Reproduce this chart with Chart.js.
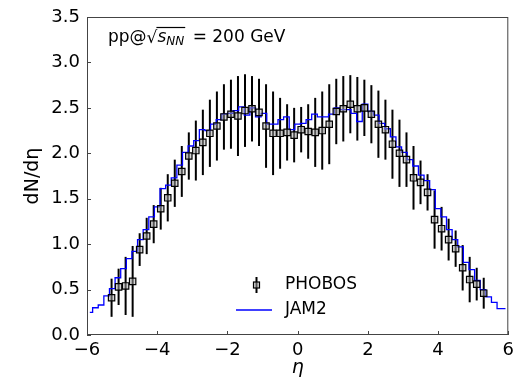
<!DOCTYPE html>
<html>
<head>
<meta charset="utf-8">
<script src="https://cdn.jsdelivr.net/npm/chart.js@4"></script>
<style>
  html, body { margin: 0; padding: 0; background: #fff; }
  #wrap { width: 514px; height: 382px; }
</style>
</head>
<body>
<div id="wrap"><canvas id="dndeta" width="514" height="382"></canvas></div>
<script>
// PHOBOS pp 200 GeV points
const phobosEta = [-5.3, -5.1, -4.9, -4.7, -4.5, -4.3, -4.1, -3.9, -3.7, -3.5, -3.3, -3.1, -2.9, -2.7,
  -2.5, -2.3, -2.1, -1.9, -1.7, -1.5, -1.3, -1.1, -0.9, -0.7, -0.5, -0.3, -0.1,
  0.1, 0.3, 0.5, 0.7, 0.9, 1.1, 1.3, 1.5, 1.7, 1.9, 2.1, 2.3, 2.5, 2.7, 2.9,
  3.1, 3.3, 3.5, 3.7, 3.9, 4.1, 4.3, 4.5, 4.7, 4.9, 5.1, 5.3];
const phobosVal = [0.41, 0.53, 0.54, 0.59, 0.94, 1.09, 1.22, 1.39, 1.51, 1.67, 1.80, 1.97, 2.03, 2.12,
  2.22, 2.30, 2.40, 2.43, 2.41, 2.47, 2.49, 2.45, 2.30, 2.22, 2.22, 2.23, 2.20,
  2.26, 2.24, 2.23, 2.25, 2.32, 2.46, 2.49, 2.54, 2.49, 2.50, 2.43, 2.32, 2.26, 2.10, 2.00,
  1.93, 1.73, 1.68, 1.57, 1.27, 1.17, 1.05, 0.95, 0.74, 0.61, 0.56, 0.46];
const phobosErr = [0.21, 0.20, 0.32, 0.39, 0.18, 0.20, 0.21, 0.23, 0.26, 0.26, 0.28, 0.26, 0.33, 0.36,
  0.37, 0.38, 0.36, 0.38, 0.44, 0.40, 0.36, 0.37, 0.46, 0.46, 0.39, 0.31, 0.30,
  0.25, 0.30, 0.38, 0.43, 0.44, 0.36, 0.36, 0.32, 0.35, 0.31, 0.32, 0.37, 0.33, 0.38, 0.37,
  0.30, 0.35, 0.24, 0.20, 0.32, 0.24, 0.23, 0.20, 0.25, 0.25, 0.18, 0.17];

// JAM2 histogram (bin centres)
const jamEta = [-5.92, -5.76, -5.60, -5.44, -5.28, -5.12, -4.96, -4.80, -4.64, -4.48, -4.32, -4.16,
  -4.00, -3.84, -3.68, -3.52, -3.36, -3.20, -3.04, -2.88, -2.72, -2.56, -2.40, -2.24, -2.08,
  -1.92, -1.76, -1.60, -1.44, -1.28, -1.12, -0.96, -0.80, -0.64, -0.48, -0.32, -0.16, 0.00,
  0.16, 0.32, 0.48, 0.64, 0.80, 0.96, 1.12, 1.28, 1.44, 1.60, 1.76, 1.92, 2.08, 2.24, 2.40,
  2.56, 2.72, 2.88, 3.04, 3.20, 3.36, 3.52, 3.68, 3.84, 4.00, 4.16, 4.32, 4.48, 4.64, 4.80,
  4.96, 5.12, 5.28, 5.44, 5.60, 5.76, 5.92];
const jamVal = [0.25, 0.30, 0.33, 0.43, 0.51, 0.63, 0.73, 0.84, 0.92, 1.05, 1.16, 1.30,
  1.41, 1.61, 1.65, 1.73, 1.87, 2.01, 2.08, 2.14, 2.26, 2.25, 2.32, 2.37, 2.43,
  2.44, 2.47, 2.51, 2.42, 2.50, 2.40, 2.44, 2.32, 2.32, 2.37, 2.40, 2.26, 2.32,
  2.33, 2.37, 2.43, 2.40, 2.40, 2.43, 2.50, 2.48, 2.48, 2.44, 2.35, 2.54, 2.46, 2.42, 2.33,
  2.27, 2.18, 2.07, 2.01, 1.93, 1.86, 1.76, 1.70, 1.60, 1.39, 1.30, 1.16, 1.05, 0.97, 0.80,
  0.72, 0.60, 0.50, 0.42, 0.36, 0.29, 0.29];

const xTicks = [-6, -4, -2, 0, 2, 4, 6];
const yTicks = [0.0, 0.5, 1.0, 1.5, 2.0, 2.5, 3.0, 3.5];

const FONT = "'DejaVu Sans', sans-serif";
const MARKER_FILL = 'rgba(170,170,170,0.5)';

// error bars, inward ticks, frame, legend and label
const extras = {
  id: 'extras',
  beforeDatasetsDraw(chart) {
    const { ctx, scales: { x, y } } = chart;
    ctx.save();
    ctx.strokeStyle = '#000';
    ctx.lineWidth = 2;
    phobosEta.forEach((e, i) => {
      const px = x.getPixelForValue(e);
      ctx.beginPath();
      ctx.moveTo(px, y.getPixelForValue(phobosVal[i] - phobosErr[i]));
      ctx.lineTo(px, y.getPixelForValue(phobosVal[i] + phobosErr[i]));
      ctx.stroke();
    });
    ctx.restore();
  },
  afterDraw(chart) {
    const { ctx, chartArea: a, scales: { x, y } } = chart;
    ctx.save();
    ctx.strokeStyle = '#444';
    ctx.lineWidth = 1;
    ctx.strokeRect(a.left + 0.5, a.top + 0.5, a.right - a.left - 1, a.bottom - a.top - 1);
    ctx.beginPath();
    xTicks.forEach(t => {
      const px = Math.round(x.getPixelForValue(t)) + 0.5;
      ctx.moveTo(px, a.bottom);
      ctx.lineTo(px, a.bottom - 4);
    });
    yTicks.forEach(t => {
      const py = Math.round(y.getPixelForValue(t)) + 0.5;
      ctx.moveTo(a.left, py);
      ctx.lineTo(a.left + 4, py);
    });
    ctx.stroke();

    // legend
    const ds = chart.data.datasets;
    ctx.fillStyle = '#000';
    ctx.font = '17px ' + FONT;
    ctx.textBaseline = 'middle';
    ctx.textAlign = 'left';
    ctx.strokeStyle = '#000';
    ctx.lineWidth = 2;
    ctx.beginPath();
    ctx.moveTo(256.5, 277);
    ctx.lineTo(256.5, 293);
    ctx.stroke();
    ctx.fillStyle = MARKER_FILL;
    ctx.fillRect(253.5, 282, 6, 6);
    ctx.lineWidth = 1.2;
    ctx.strokeRect(253.5, 282, 6, 6);
    ctx.fillStyle = '#000';
    ctx.fillText(ds[0].label, 285, 285);
    ctx.strokeStyle = '#0000ff';
    ctx.lineWidth = 1.3;
    ctx.beginPath();
    ctx.moveTo(236, 310);
    ctx.lineTo(272, 310);
    ctx.stroke();
    ctx.fillText(ds[1].label, 285, 310);

    // collision label
    let cx = 108;
    const cy = 38;
    ctx.font = '17px ' + FONT;
    ctx.fillText('pp@', cx, cy);
    cx += ctx.measureText('pp@').width;
    ctx.fillText('\u221A', cx, cy + 1);
    cx += ctx.measureText('\u221A').width;
    const rootStart = cx - 1;
    ctx.font = 'italic 17px ' + FONT;
    ctx.fillText('s', cx, cy);
    cx += ctx.measureText('s').width;
    ctx.font = 'italic 12px ' + FONT;
    ctx.fillText('NN', cx, cy + 4);
    cx += ctx.measureText('NN').width + 1;
    ctx.strokeStyle = '#000';
    ctx.lineWidth = 1.2;
    ctx.beginPath();
    ctx.moveTo(rootStart, cy - 10.5);
    ctx.lineTo(cx, cy - 10.5);
    ctx.stroke();
    ctx.font = '17px ' + FONT;
    ctx.fillText(' = 200 GeV', cx + 2, cy);
    ctx.restore();
  }
};

new Chart(document.getElementById('dndeta'), {
  type: 'scatter',
  data: {
    datasets: [{
      label: 'PHOBOS',
      data: phobosEta.map((e, i) => ({ x: e, y: phobosVal[i] })),
      pointStyle: 'rect',
      pointRadius: 4.5,
      pointBorderWidth: 1.2,
      pointBorderColor: '#000',
      pointBackgroundColor: MARKER_FILL,
      showLine: false,
      order: 1
    }, {
      label: 'JAM2',
      data: jamEta.map((e, i) => ({ x: e, y: jamVal[i] })),
      showLine: true,
      stepped: 'middle',
      borderColor: '#0000ff',
      borderWidth: 1.3,
      pointRadius: 0,
      fill: false,
      order: 2
    }]
  },
  options: {
    responsive: false,
    devicePixelRatio: 1,
    animation: false,
    layout: { padding: { top: 17, right: 5, left: 0, bottom: 0 } },
    plugins: { legend: { display: false }, tooltip: { enabled: false } },
    scales: {
      x: {
        type: 'linear', min: -6, max: 6,
        afterFit: s => { s.height = 47; s.paddingLeft = 0; s.paddingRight = 0; },
        afterBuildTicks: s => { s.ticks = xTicks.map(v => ({ value: v })); },
        grid: { display: false, drawTicks: false },
        border: { display: false },
        ticks: {
          padding: 5, color: '#000', font: { family: FONT, size: 18 },
          maxRotation: 0,
          callback: v => String(v).replace('-', '\u2212')
        },
        title: { display: true, text: '\u03B7', color: '#000', padding: { top: 0, bottom: 3 },
                 font: { family: FONT, size: 19, style: 'italic' } }
      },
      y: {
        min: 0, max: 3.5,
        afterFit: s => { s.width = 87; s.paddingTop = 0; s.paddingBottom = 0; },
        afterBuildTicks: s => { s.ticks = yTicks.map(v => ({ value: v })); },
        grid: { display: false, drawTicks: false },
        border: { display: false },
        ticks: {
          padding: 7, color: '#000', font: { family: FONT, size: 18 },
          callback: v => v.toFixed(1)
        },
        title: { display: true, text: 'dN/d\u03B7', color: '#000', padding: { top: 22, bottom: 0 },
                 font: { family: FONT, size: 19 } }
      }
    }
  },
  plugins: [extras]
});
</script>
</body>
</html>
